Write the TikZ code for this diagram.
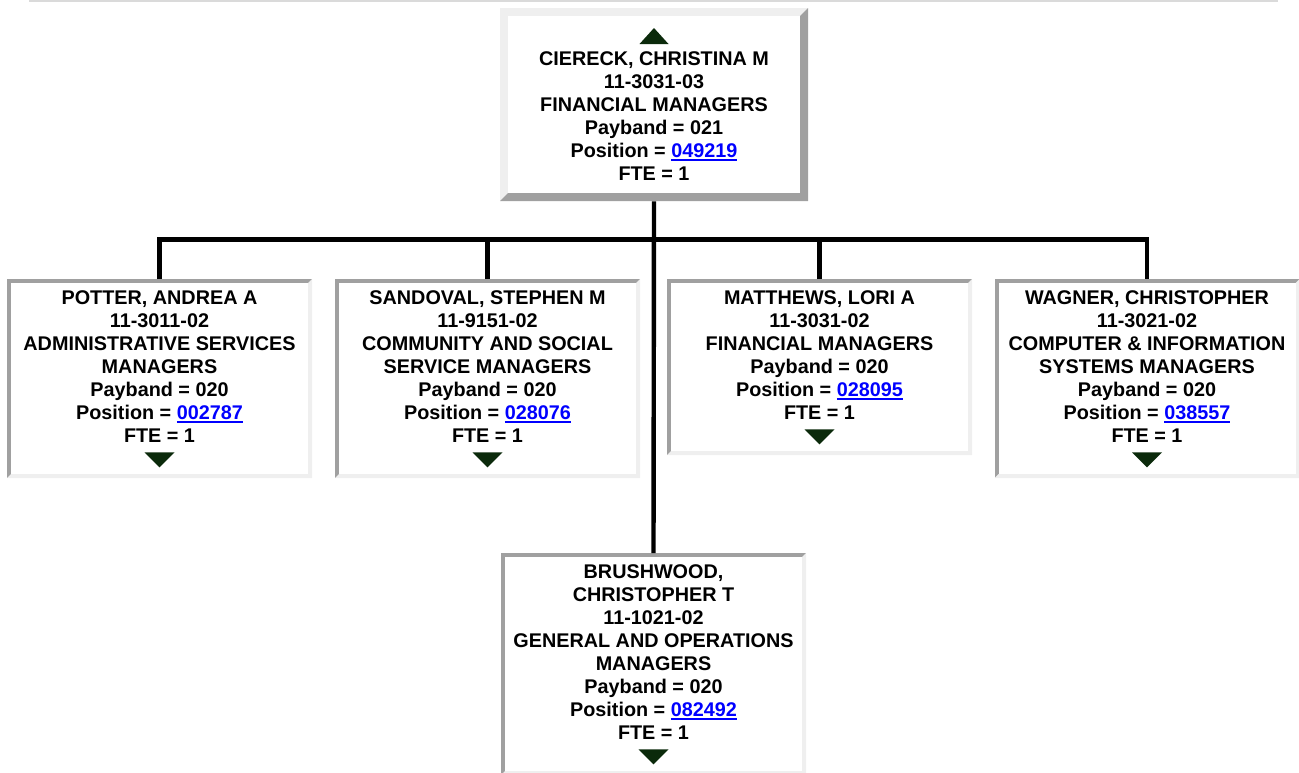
\documentclass[tikz,border=0pt]{standalone}
\usepackage{fontspec}
\setmainfont{Liberation Sans}
\usepackage{tikz}

\definecolor{edgedark}{HTML}{A0A0A0}
\definecolor{edgelight}{HTML}{EFEFEF}
\definecolor{rulegrey}{HTML}{DADADA}
\definecolor{linkblue}{HTML}{0000FF}
\definecolor{markgreen}{HTML}{0B2A0B}

\newcommand\topgap[1]{\rule{0pt}{#1}}
\newcommand\botgap[1]{\rule[-#1]{0pt}{#1}}
\newcommand\poslink[1]{\textcolor{linkblue}{\setbox0=\hbox{#1}\rlap{\rule[-3.5pt]{\wd0}{2pt}}\box0}}

\begin{document}
\begin{tikzpicture}[x=1pt,y=-1pt,
    card/.style={fill=white,inner sep=0pt,align=center,minimum width=305pt,
      font=\bfseries\fontsize{19.8}{23}\selectfont},
    bevel/.style n args={3}{path picture={
      \fill[#2] (path picture bounding box.south west) rectangle (path picture bounding box.north east);
      \fill[#3] (path picture bounding box.south west) -- (path picture bounding box.south east)
        -- (path picture bounding box.north east) -- ([shift={(-#1,-#1)}]path picture bounding box.north east)
        -- ([shift={(-#1,#1)}]path picture bounding box.south east) -- ([shift={(#1,#1)}]path picture bounding box.south west) -- cycle;
      \fill[white] ([shift={(#1,#1)}]path picture bounding box.south west) rectangle ([shift={(-#1,-#1)}]path picture bounding box.north east);}},
    raised/.style={card,minimum width=308pt,bevel={8pt}{edgelight}{edgedark}},
    sunken/.style={card,bevel={4pt}{edgedark}{edgelight}},
    link/.style={line width=4.4pt},
    tri/.style={fill=markgreen}]

\useasboundingbox (0,0) rectangle (1299,772);
\draw[rulegrey,line width=1.5pt] (29,0.75) -- (1278,0.75);

% Level 0
\node[raised,anchor=north] (ciereck) at (654,8) {\topgap{57pt}CIERECK, CHRISTINA M\\11-3031-03\\FINANCIAL MANAGERS\\Payband = 021\\Position = \poslink{049219}\\FTE = 1\botgap{21pt}};

% Level 1
\node[sunken,anchor=north] (potter) at (159.5,279) {\topgap{25pt}POTTER, ANDREA A\\11-3011-02\\ADMINISTRATIVE SERVICES\\MANAGERS\\Payband = 020\\Position = \poslink{002787}\\FTE = 1\botgap{36pt}};
\node[sunken,anchor=north] (sandoval) at (487.5,279) {\topgap{25pt}SANDOVAL, STEPHEN M\\11-9151-02\\COMMUNITY AND SOCIAL\\SERVICE MANAGERS\\Payband = 020\\Position = \poslink{028076}\\FTE = 1\botgap{36pt}};
\node[sunken,anchor=north] (matthews) at (819.5,279) {\topgap{25pt}MATTHEWS, LORI A\\11-3031-02\\FINANCIAL MANAGERS\\Payband = 020\\Position = \poslink{028095}\\FTE = 1\botgap{36pt}};
\node[sunken,anchor=north] (wagner) at (1147,279) {\topgap{25pt}WAGNER, CHRISTOPHER\\11-3021-02\\COMPUTER \& INFORMATION\\SYSTEMS MANAGERS\\Payband = 020\\Position = \poslink{038557}\\FTE = 1\botgap{36pt}};
\node[sunken,anchor=north] (brushwood) at (653.5,553) {\topgap{25pt}BRUSHWOOD,\\CHRISTOPHER T\\11-1021-02\\GENERAL AND OPERATIONS\\MANAGERS\\Payband = 020\\Position = \poslink{082492}\\FTE = 1\botgap{36pt}};

% Markers
\fill[tri] ([shift={(-14.5,36)}]ciereck.north) -- ++(29,0) -- ++(-14.5,-16) -- cycle;
\foreach \n in {potter,sandoval,matthews,wagner,brushwood}
  \fill[tri] ([shift={(-15,-26)}]\n.south) -- ++(30,0) -- ++(-15,15) -- cycle;

% Edges
\coordinate (bar) at (654,239.5);
\draw[link] (potter.north) |- (bar) -| (wagner.north);
\draw[link] (sandoval.north) -- (sandoval.north |- bar);
\draw[link] (matthews.north) -- (matthews.north |- bar);
\draw[link] (ciereck.south) -- (brushwood.north);
\end{tikzpicture}
\end{document}
